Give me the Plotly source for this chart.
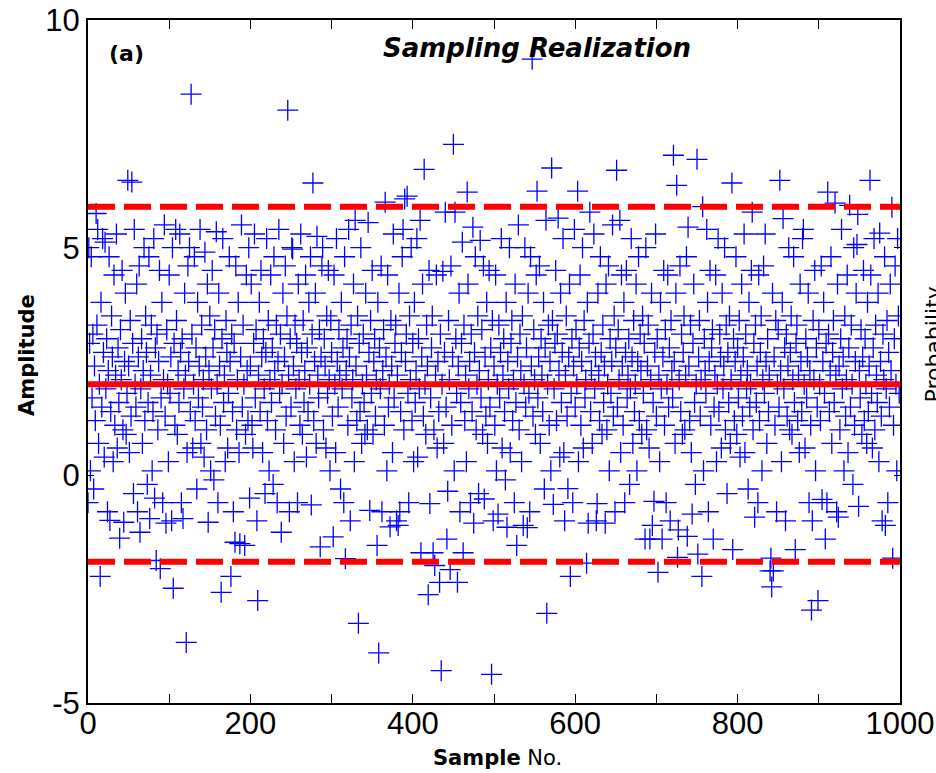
import plotly.graph_objects as go

# ---------------- data ----------------
amp_000_199 = [
 -0.6,5.0,2.9,0.1,4.8,1.7,3.1,-0.3,2.4,1.2,5.75,3.3,5.4,0.7,2.0,-2.22,3.8,1.5,5.2,2.7,
 0.4,5.12,1.9,3.0,-0.8,2.3,4.8,-0.99,1.4,3.5,2.6,0.3,4.4,1.1,2.2,5.3,0.6,2.8,1.6,-1.38,
 3.2,2.1,4.5,1.0,-1.03,2.5,4.0,0.9,1.8,6.48,
 2.4,0.5,3.4,1.3,6.44,2.9,-0.4,5.4,2.0,1.5,4.2,-0.8,2.6,4.6,-1.25,1.9,3.0,0.7,2.3,5.0,
 1.2,3.5,2.7,-0.2,1.6,4.8,-0.95,2.2,3.3,0.1,1.4,5.2,-0.5,2.8,-1.87,3.1,1.0,2.5,4.5,-2.05,
 1.7,3.8,-0.6,2.1,5.5,1.3,-1.05,3.2,2.0,0.3,
 4.4,1.8,2.6,-1.0,5.0,-2.48,2.9,1.1,5.4,3.4,0.9,2.3,1.6,5.3,2.7,-0.6,3.0,-0.95,1.9,4.0,
 2.2,-3.67,0.5,4.6,2.5,5.0,1.4,8.37,3.1,0.6,2.0,4.8,1.2,2.8,-0.3,3.8,1.7,2.4,5.4,0.7,
 3.3,1.5,2.1,0.4,4.9,2.6,1.0,4.2,-1.03,2.3,
 3.5,0.1,1.9,4.5,2.8,-0.1,3.2,1.3,5.35,2.0,-0.6,4.0,2.4,1.1,-2.57,3.0,5.2,1.6,2.2,0.3,
 3.4,2.7,0.6,1.8,4.8,2.5,-2.22,3.1,1.4,-0.8,2.9,-1.47,4.6,1.0,2.1,3.8,0.5,-1.5,2.6,5.5,
 1.5,3.3,2.0,-1.54,0.9,4.4,2.3,1.2,5.0,-0.5,
]
amp_200_399 = [
 2.4,4.2,1.1,0.6,2.9,5.3,1.7,3.2,-1.0,-2.75,2.2,3.8,1.4,4.5,2.6,0.5,3.0,1.9,-0.4,2.7,
 5.2,1.2,3.4,0.1,2.1,4.4,1.6,2.8,-0.2,4.8,2.3,1.0,3.3,-0.6,2.5,5.4,1.8,3.1,-1.25,2.0,
 4.0,0.7,2.6,4.6,1.3,3.5,8.02,2.2,-0.8,3.0,
 1.5,5.0,4.97,2.4,0.3,3.3,1.9,2.9,-0.6,4.2,2.1,1.1,5.3,2.7,0.9,3.4,1.6,2.3,4.4,0.4,
 2.8,1.4,3.8,2.0,4.8,-0.65,3.1,6.42,1.2,2.5,4.0,0.7,5.25,2.2,1.7,3.2,-1.57,2.6,4.6,5.0,
 1.0,3.0,2.4,0.6,3.5,1.8,4.5,2.1,0.1,3.4,
 2.7,1.3,-1.35,4.4,2.0,0.5,5.2,2.5,1.5,3.2,2.2,-0.3,3.8,1.9,2.8,-0.6,4.8,-1.83,2.3,3.0,
 1.1,5.4,2.6,-1.0,3.3,1.7,2.1,4.2,0.3,5.6,2.4,1.2,3.5,-3.25,2.9,1.4,5.0,0.7,2.0,3.1,
 1.6,0.9,4.0,2.2,1.0,5.55,2.7,-0.77,3.4,1.8,
 4.5,0.9,2.5,3.0,1.3,2.1,-1.54,3.8,-3.9,2.8,1.9,4.6,-0.8,2.3,3.2,1.1,6.0,2.6,0.1,4.4,
 1.5,2.0,-1.13,3.4,2.4,0.5,5.3,1.7,2.9,3.3,-1.0,2.2,-1.1,4.0,-0.8,1.4,2.7,4.8,5.4,1.0,
 6.07,2.5,3.1,6.13,1.8,-0.6,3.5,2.1,5.0,1.2,
]
amp_400_599 = [
 2.9,0.3,3.8,1.6,2.3,5.2,0.4,3.0,1.9,5.6,-1.7,2.6,4.2,1.3,6.72,2.0,0.9,3.3,2.4,-2.62,
 4.5,-0.62,1.7,2.8,3.5,-1.7,1.0,-1.98,2.2,4.4,0.6,2.5,1.4,-2.35,3.1,-4.29,2.0,4.48,0.7,2.7,
 5.78,1.5,-1.4,-0.35,3.4,2.1,-2.07,4.6,1.1,2.6,
 7.27,0.1,5.78,3.0,1.8,-2.35,2.4,4.0,-0.8,1.6,2.9,5.12,-1.7,3.3,1.2,2.2,0.3,6.22,4.2,1.9,
 2.5,-0.6,3.1,1.4,5.45,-1.05,2.7,4.8,1.0,2.0,3.5,-0.4,2.3,5.16,1.7,3.2,0.9,4.6,-0.52,2.6,
 1.3,3.8,0.7,2.1,4.5,1.5,2.8,-4.37,3.4,-1.0,
 2.4,1.1,4.4,0.1,2.0,-0.85,3.3,1.7,2.7,5.2,0.6,2.2,3.0,1.4,-0.1,3.8,-1.14,2.5,1.9,5.0,
 0.5,2.9,3.4,1.2,2.1,-0.6,4.2,1.6,-1.54,2.6,5.5,1.0,3.1,2.3,0.3,3.5,-1.1,2.0,5.0,1.5,
 2.8,-1.15,4.0,1.8,-0.8,4.8,2.4,9.14,1.3,3.2,
 2.1,0.9,4.4,6.24,1.7,2.6,4.6,0.7,3.0,2.2,1.4,3.8,-0.3,2.8,5.6,-3.03,2.0,3.3,1.1,2.5,
 0.1,6.75,3.4,-0.64,1.9,2.9,4.5,1.2,3.1,5.65,2.3,0.4,4.0,1.6,2.7,5.2,0.5,-1.0,2.2,3.5,
 1.3,-0.29,2.6,4.2,-2.22,1.8,3.0,-0.6,2.4,5.4,
]
amp_600_799 = [
 1.5,3.2,2.0,6.24,0.3,2.8,4.4,1.1,2.5,5.0,0.6,3.4,1.7,2.1,-1.93,3.8,-1.05,2.9,5.78,1.4,
 2.3,0.7,3.1,5.3,1.9,2.6,-1.0,-0.62,4.0,2.2,1.2,4.8,2.7,0.9,3.3,1.6,2.4,-1.05,4.2,1.0,
 2.0,4.6,0.1,3.0,1.8,2.5,5.5,1.3,3.5,-0.8,
 2.8,6.7,1.5,3.2,2.1,5.6,0.5,4.4,2.4,1.1,3.8,-0.6,2.7,4.5,1.7,2.2,3.0,-0.2,1.9,5.2,
 2.6,0.7,3.4,1.4,2.0,4.2,0.1,2.5,4.8,1.2,3.1,2.3,0.9,3.5,1.8,2.9,-1.4,5.0,1.0,2.4,
 3.3,0.6,-1.4,2.1,4.0,-1.1,1.6,-0.57,2.7,5.3,
 1.3,3.0,-2.13,2.2,0.3,3.8,1.9,-1.4,2.6,4.5,1.1,3.2,-0.6,2.0,4.4,1.5,2.8,-1.0,3.4,2.3,
 1.7,7.03,2.5,0.7,4.0,6.37,-1.8,-1.2,2.1,4.6,1.4,3.1,0.9,2.7,3.5,1.0,2.2,4.8,-1.34,5.45,
 2.4,1.2,3.3,0.5,-0.85,2.9,4.2,1.6,-0.2,2.0,
 6.94,-1.73,2.6,3.4,1.3,2.1,-2.22,5.9,0.1,3.0,2.3,1.8,5.4,3.8,-0.8,2.5,4.5,1.1,2.8,3.2,
 -1.4,1.5,2.2,4.4,0.3,2.0,5.2,1.4,3.1,2.6,0.6,4.0,1.9,2.4,5.0,1.0,3.3,-0.4,2.7,1.6,
 3.5,0.7,2.1,6.42,-1.63,3.0,1.2,2.5,4.8,0.9,
]
amp_800_999 = [
 2.8,1.7,3.4,0.4,2.2,4.2,1.3,2.6,5.3,0.5,3.1,1.9,2.3,-0.3,3.8,1.5,2.0,4.5,5.78,1.0,
 2.9,-0.92,3.3,1.6,2.4,-0.6,4.4,1.2,2.7,3.5,0.1,2.1,4.6,1.8,5.3,2.5,0.7,3.0,1.4,2.2,
 -2.1,-1.82,-2.45,4.0,-2.1,2.6,1.1,3.4,-0.8,2.0,
 3.2,1.5,6.48,2.3,0.3,3.8,5.64,1.9,2.8,-1.0,3.1,1.3,2.4,5.0,1.0,2.7,3.5,0.9,2.1,4.8,
 1.6,-1.63,2.9,3.3,1.2,2.2,0.5,4.2,2.5,1.4,5.2,5.4,2.0,0.6,3.0,1.7,2.6,4.0,-0.6,2.3,
 1.1,-2.96,-1.0,3.4,2.1,4.5,0.1,2.8,1.5,-2.75,
 3.2,2.0,1.2,4.6,-0.53,2.5,3.8,1.8,-1.4,2.9,-0.6,6.22,3.1,1.4,2.3,4.8,0.7,2.7,3.4,1.6,
 5.98,2.2,-0.8,4.2,-0.92,2.4,1.0,3.0,5.4,1.9,2.6,0.1,3.5,1.3,2.1,4.4,0.5,2.8,5.93,1.5,
 3.3,2.0,-0.2,5.0,1.1,2.5,4.0,5.07,5.73,-0.68,
 2.3,1.7,3.2,0.9,2.6,4.5,1.2,3.0,2.0,0.7,3.8,1.4,2.4,6.48,4.4,1.8,0.6,2.8,5.2,1.0,
 3.3,2.2,1.6,4.0,0.3,5.32,2.5,1.3,-1.0,3.1,2.1,4.8,-1.1,1.9,3.4,-0.6,2.7,1.5,4.2,2.3,
 5.89,-1.82,1.1,3.0,4.6,2.0,0.1,5.2,3.5,1.8,
]
amplitude = amp_000_199 + amp_200_399 + amp_400_599 + amp_600_799 + amp_800_999
sample_no = list(range(len(amplitude)))

mean_level = 2.0
upper_limit = 5.9
lower_limit = -1.9
line_x = [0, 1000]

x_ticks = [0, 200, 400, 600, 800, 1000]
y_ticks = [-5, 0, 5, 10]

TICKFONT = "Liberation Sans Narrow, Arial Narrow, Liberation Sans, sans-serif"
TEXTFONT = "DejaVu Sans, Verdana, sans-serif"

# ---------------- figure ----------------
fig = go.Figure()
fig.add_trace(go.Scatter(
    x=sample_no, y=amplitude, mode="markers",
    marker=dict(symbol="cross-thin", size=15, color="blue",
                line=dict(color="blue", width=1.3)),
    showlegend=False, hoverinfo="skip"))

for lvl, dash in [(upper_limit, "27px,9px"), (lower_limit, "27px,9px"), (mean_level, "solid")]:
    fig.add_trace(go.Scatter(
        x=line_x, y=[lvl, lvl], mode="lines",
        line=dict(color="#ff0000", width=6, dash=dash),
        showlegend=False, hoverinfo="skip"))

fig.update_layout(
    width=936, height=773,
    margin=dict(l=88, r=36, t=20, b=70, autoexpand=False),
    paper_bgcolor="white", plot_bgcolor="white",
    font=dict(family=TICKFONT, color="black", size=24),
    xaxis=dict(range=[0, 1000], tickvals=x_ticks, ticktext=[str(v) for v in x_ticks],
               ticks="inside", ticklen=9, tickwidth=1, tickcolor="black",
               minor=dict(dtick=100, tick0=0, ticks="inside", ticklen=9, tickcolor="black"),
               showline=True, linecolor="black", linewidth=2, mirror="ticks",
               showgrid=False, zeroline=False, automargin=False,
               ticklabeloverflow="allow", ticklabelstandoff=-8,
               tickfont=dict(size=31, family=TICKFONT)),
    yaxis=dict(range=[-5, 10], tickvals=y_ticks, ticktext=[str(v) for v in y_ticks],
               ticks="inside", ticklen=6, tickwidth=1, tickcolor="black",
               showline=True, linecolor="black", linewidth=2, mirror="ticks",
               showgrid=False, zeroline=False, automargin=False,
               ticklabeloverflow="allow",
               tickfont=dict(size=31, family=TICKFONT)),
)

annots = [
    dict(text="<b><i>Sampling Realization</i></b>", x=537, y=48, size=26),
    dict(text="<b>(a)</b>", x=126, y=53, size=22),
    dict(text="<b>Sample</b> No.", x=497, y=758, size=21),
]
for a in annots:
    fig.add_annotation(text=a["text"], xref="paper", yref="paper",
                       x=(a["x"] - 88) / 812, y=(703 - a["y"]) / 683,
                       xanchor="center", yanchor="middle", showarrow=False,
                       font=dict(size=a["size"], family=TEXTFONT, color="black"))
fig.add_annotation(text="<b>Amplitude</b>", xref="paper", yref="paper",
                   x=(27 - 88) / 812, y=(703 - 355) / 683, textangle=-90,
                   xanchor="center", yanchor="middle", showarrow=False,
                   font=dict(size=21, family=TEXTFONT, color="black"))
fig.add_annotation(text="Probability", xref="paper", yref="paper",
                   x=(918 - 88) / 812, y=(703 - 345) / 683, textangle=-90,
                   xanchor="left", yanchor="middle", showarrow=False,
                   font=dict(size=22, family=TEXTFONT, color="black"))

fig.write_html("out.html")
